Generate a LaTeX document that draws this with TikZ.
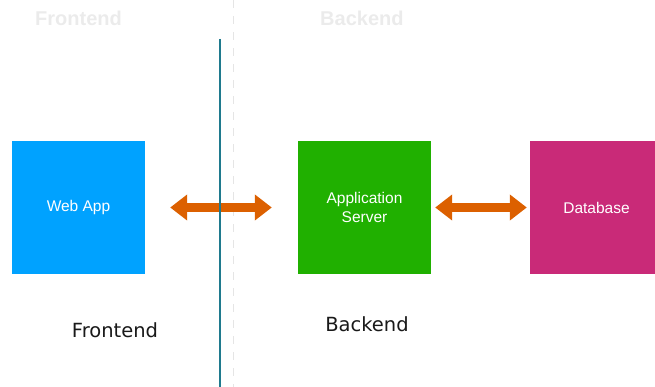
\documentclass[tikz,border=0pt]{standalone}
\usepackage{fontspec}
\setmainfont{Liberation Sans}
\newfontfamily\labelfont{DejaVu Sans}
\usetikzlibrary{arrows.meta}
\definecolor{webblue}{HTML}{00A2FF}
\definecolor{appgreen}{HTML}{20B000}
\definecolor{dbpink}{HTML}{C92A78}
\definecolor{arroworange}{HTML}{DC6000}
\definecolor{divteal}{HTML}{1F7A8E}
\tikzset{
  box/.style={draw=none, minimum width=133pt, minimum height=133pt, inner sep=0pt,
    text=white, font=\fontsize{15.5}{18.5}\selectfont, align=center},
  link/.style={arroworange, line width=9.5pt,
    {Triangle[width=25pt,length=17pt]}-{Triangle[width=25pt,length=17pt]}},
  sidelabel/.style={font=\labelfont\fontsize{19.5}{22}\selectfont, text=black!90, inner sep=0pt},
  ghost/.style={font=\bfseries\fontsize{20}{24}\selectfont, text=white!92!black, inner sep=0pt}
}
\begin{document}
\begin{tikzpicture}[x=1pt,y=-1pt]
\useasboundingbox (0,0) rectangle (655,387);
% faint dashed divider
\coordinate (dtop) at (233,0);
\coordinate (dbot) at (233,387);
\draw[white!90!black, line width=0.8pt, dash pattern=on 8pt off 8pt] (dtop) -- (dbot);
% ghost headings
\node[ghost, anchor=west] (gf) at (35,18) {Frontend};
\node[ghost, anchor=west] (gb) at (320,18) {Backend};
% boxes
\node[box, fill=webblue] (web) at (78.5,207.5) {Web App};
\node[box, fill=appgreen] (app) at (364.5,207.5) {Application\\Server};
\node[box, fill=dbpink] (db) at (596.5,207.5) {Database};
% arrows
\draw[link, shorten <=25pt, shorten >=26pt] (web.east) -- (app.west);
\draw[link, shorten <=4pt, shorten >=3pt] (app.east) -- (db.west);
% teal divider
\coordinate (ttop) at (220,39);
\coordinate (tbot) at (220,387);
\draw[divteal, line width=2.6pt] (ttop) -- (tbot);
% labels
\node[sidelabel] (fl) at (115,330) {Frontend};
\node[sidelabel] (bl) at (367,324) {Backend};
\end{tikzpicture}
\end{document}
